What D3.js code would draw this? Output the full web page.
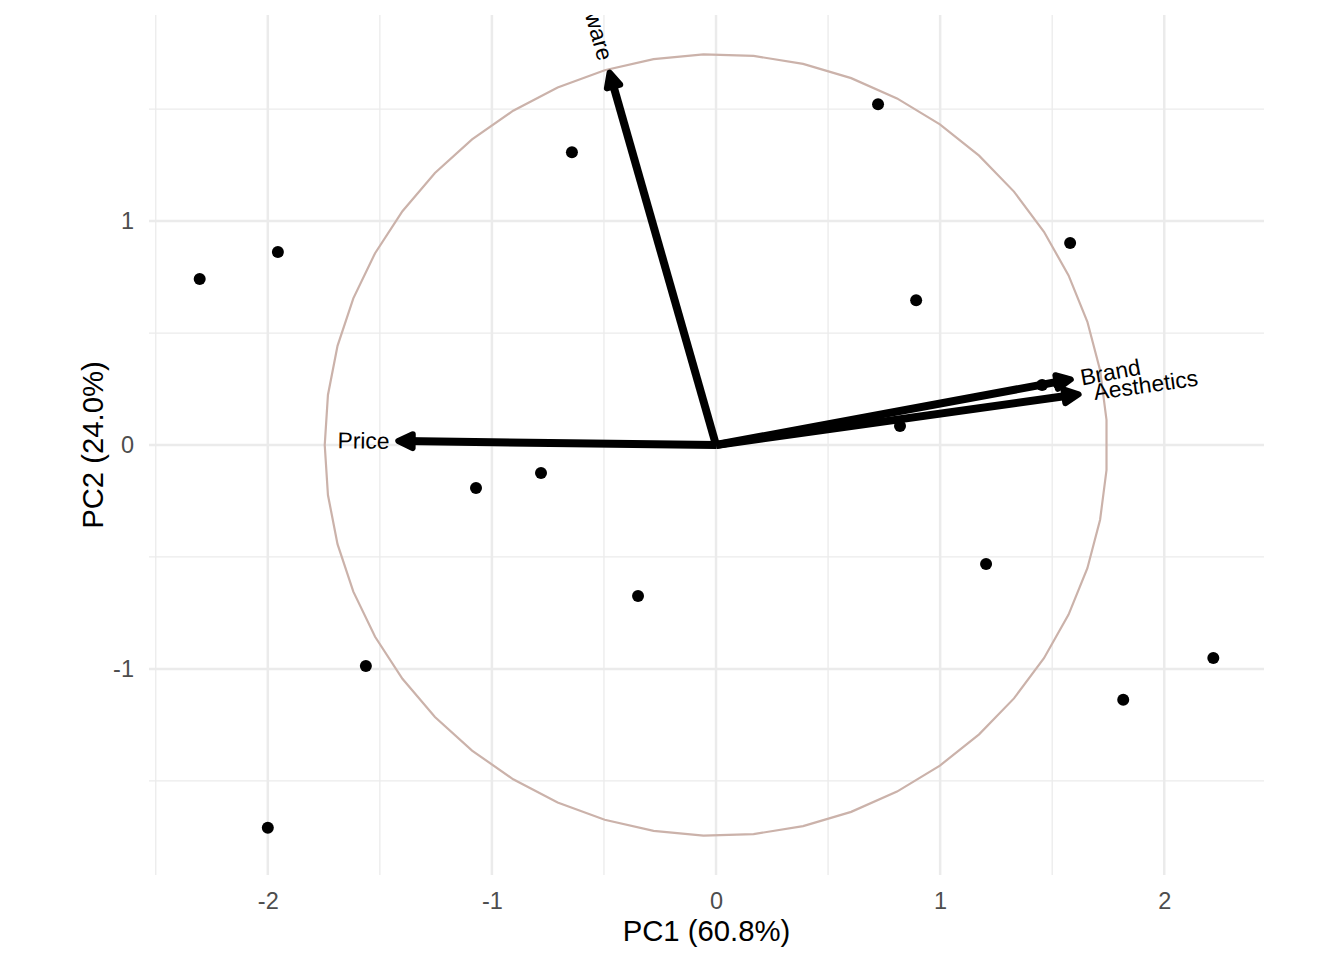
<!DOCTYPE html>
<html>
<head>
<meta charset="utf-8">
<script src="https://cdn.jsdelivr.net/npm/d3@7"></script>
<style>
  body { margin: 0; background: #fff; }
  svg { font-family: "Liberation Sans", Arial, Helvetica, sans-serif; }
</style>
</head>
<body>
<svg id="svgChart" width="1344" height="960"></svg>
<script>
// observation scores
var pc1 = [-2.304, -1.955, -0.643, 0.723, 1.580, 0.893, 1.455, 1.527, 0.821, -1.071, -0.781, -0.348, 1.205, 2.219, 1.817, -1.5625, -2.000];
var pc2 = [0.741, 0.862, 1.308, 1.522, 0.902, 0.647, 0.268, 0.277, 0.085, -0.192, -0.125, -0.674, -0.531, -0.951, -1.138, -0.987, -1.710];

// variable loadings (arrows)
var varNames = ["Software", "Price", "Brand", "Aesthetics"];
var varX = [-0.478, -1.429, 1.594, 1.629];
var varY = [1.674, 0.018, 0.295, 0.228];

var circleR = 1.746;
var xTicks = [-2, -1, 0, 1, 2];
var yTicks = [-1, 0, 1];
var xMinor = [-2.5, -1.5, -0.5, 0.5, 1.5];
var yMinor = [-1.5, -0.5, 0.5, 1.5];
var xTitle = "PC1 (60.8%)";
var yTitle = "PC2 (24.0%)";

var panel = {left: 149, right: 1264, top: 15, bottom: 875};

function drawChart() {
  var svg = d3.select("#svgChart");

  // ggplot style 5% expansion
  var allX = pc1.concat(varX, [-circleR, circleR]);
  var allY = pc2.concat(varY, [-circleR, circleR]);
  var xe = d3.extent(allX), ye = d3.extent(allY);
  var xp = (xe[1] - xe[0]) * 0.05, yp = (ye[1] - ye[0]) * 0.05;

  var x = d3.scaleLinear().domain([xe[0] - xp, xe[1] + xp]).range([panel.left, panel.right]);
  var y = d3.scaleLinear().domain([ye[0] - yp, ye[1] + yp]).range([panel.bottom, panel.top]);

  svg.append("defs").append("clipPath").attr("id", "clipPanel")
    .append("rect")
      .attr("x", panel.left).attr("y", panel.top)
      .attr("width", panel.right - panel.left).attr("height", panel.bottom - panel.top);

  var grid = svg.append("g");
  grid.selectAll(".xminor").data(xMinor).enter().append("line")
    .attr("x1", d => x(d)).attr("x2", d => x(d))
    .attr("y1", panel.top).attr("y2", panel.bottom)
    .attr("stroke", "#ebebeb").attr("stroke-width", 1.3);
  grid.selectAll(".yminor").data(yMinor).enter().append("line")
    .attr("y1", d => y(d)).attr("y2", d => y(d))
    .attr("x1", panel.left).attr("x2", panel.right)
    .attr("stroke", "#ebebeb").attr("stroke-width", 1.3);
  grid.selectAll(".xmajor").data(xTicks).enter().append("line")
    .attr("x1", d => x(d)).attr("x2", d => x(d))
    .attr("y1", panel.top).attr("y2", panel.bottom)
    .attr("stroke", "#ebebeb").attr("stroke-width", 2.5);
  grid.selectAll(".ymajor").data(yTicks).enter().append("line")
    .attr("y1", d => y(d)).attr("y2", d => y(d))
    .attr("x1", panel.left).attr("x2", panel.right)
    .attr("stroke", "#ebebeb").attr("stroke-width", 2.5);

  // axes, ticks hidden like theme_minimal
  var xAxis = svg.append("g")
    .attr("transform", "translate(0," + panel.bottom + ")")
    .call(d3.axisBottom(x).tickValues(xTicks).tickSize(0).tickPadding(17).tickFormat(d3.format("d")));
  var yAxis = svg.append("g")
    .attr("transform", "translate(" + panel.left + ",0)")
    .call(d3.axisLeft(y).tickValues(yTicks).tickSize(0).tickPadding(15).tickFormat(d3.format("d")));
  [xAxis, yAxis].forEach(function(a) {
    a.select(".domain").remove();
    a.selectAll("text")
      .attr("font-family", "'Liberation Sans', Arial, sans-serif")
      .attr("font-size", "23.5px")
      .attr("fill", "#4d4d4d");
  });
  // plain hyphen minus like the R output
  xAxis.selectAll("text").text(d => String(d));
  yAxis.selectAll("text").text(d => String(d));

  svg.append("text")
    .attr("x", (panel.left + panel.right) / 2).attr("y", 941)
    .attr("text-anchor", "middle")
    .attr("font-size", "29.3px").attr("fill", "#000")
    .text(xTitle);
  svg.append("text")
    .attr("transform", "translate(103," + ((panel.top + panel.bottom) / 2) + ") rotate(-90)")
    .attr("text-anchor", "middle")
    .attr("font-size", "29.3px").attr("fill", "#000")
    .text(yTitle);

  var g = svg.append("g").attr("clip-path", "url(#clipPanel)");

  // correlation circle, 50-vertex path as in ggbiplot
  var theta = d3.range(50).map(i => -Math.PI + i * 2 * Math.PI / 49);
  var circ = d3.line()
    .x(t => x(circleR * Math.cos(t)))
    .y(t => y(circleR * Math.sin(t)));
  g.append("path")
    .datum(theta)
    .attr("d", circ)
    .attr("fill", "none")
    .attr("stroke", "#cbb2aa")
    .attr("stroke-width", 2.2);

  // points
  g.selectAll(".pt").data(pc1).enter().append("circle")
    .attr("cx", d => x(d))
    .attr("cy", (d, i) => y(pc2[i]))
    .attr("r", 6)
    .attr("fill", "#000");

  // arrows
  var headLen = 16, headAng = Math.PI / 7;
  varNames.forEach(function(name, i) {
    var x0 = x(0), y0 = y(0), x1 = x(varX[i]), y1 = y(varY[i]);
    var a = Math.atan2(y1 - y0, x1 - x0);
    var xs = x1 - 8 * Math.cos(a), ys = y1 - 8 * Math.sin(a);
    g.append("line")
      .attr("x1", x0).attr("y1", y0).attr("x2", xs).attr("y2", ys)
      .attr("stroke", "#000").attr("stroke-width", 8)
      .attr("stroke-linecap", "butt");
    var tx = x1 - 2.5 * Math.cos(a), ty = y1 - 2.5 * Math.sin(a);
    var pA = [tx - headLen * Math.cos(a - headAng), ty - headLen * Math.sin(a - headAng)];
    var pB = [tx - headLen * Math.cos(a + headAng), ty - headLen * Math.sin(a + headAng)];
    g.append("path")
      .attr("d", "M" + pA + "L" + [tx, ty] + "L" + pB + "Z")
      .attr("fill", "#000").attr("stroke", "#000").attr("stroke-width", 6)
      .attr("stroke-linejoin", "round");
  });

  // variable labels along the arrows
  varNames.forEach(function(name, i) {
    var ang = -Math.atan(varY[i] / varX[i]) * 180 / Math.PI;
    var pos = varX[i] > 0;
    var t = g.append("text")
      .attr("transform", "translate(" + x(varX[i]) + "," + y(varY[i]) + ") rotate(" + ang + ")")
      .attr("text-anchor", pos ? "start" : "end")
      .attr("dy", "0.35em")
      .attr("font-size", "22.8px")
      .attr("fill", "#000")
      .text(name);
    var len = t.node().getComputedTextLength();
    t.attr("dx", (pos ? 1 : -1) * 0.12 * len);
  });
}

drawChart();
</script>
</body>
</html>
